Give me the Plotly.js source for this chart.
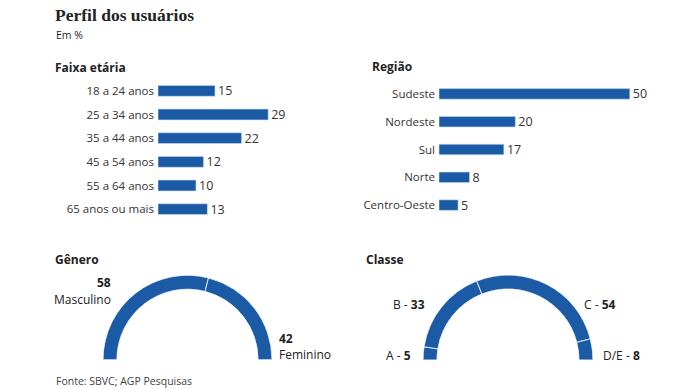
<!DOCTYPE html>
<html><head><meta charset="utf-8">
<script src="https://cdn.plot.ly/plotly-3.0.1.min.js"></script>
<style>html,body{margin:0;padding:0;background:#fff}#chart{width:700px;height:389px}</style>
</head><body><div id="chart"></div>
<script>
// ---- data ----
const ageLabels = ["18 a 24 anos","25 a 34 anos","35 a 44 anos","45 a 54 anos","55 a 64 anos","65 anos ou mais"];
const ageValues = [15, 29, 22, 12, 10, 13];
const regionLabels = ["Sudeste","Nordeste","Sul","Norte","Centro-Oeste"];
const regionValues = [50, 20, 17, 8, 5];
const genderLabels = ["Masculino","Feminino"];
const genderValues = [58, 42];
const classLabels = ["A","B","C","D/E"];
const classValues = [5, 33, 54, 8];

const BLUE = "#1b5ba5";
const FONT = "Open Sans, Noto Sans, sans-serif";
const W = 700, H = 389;
const px = x => x / W;
const py = y => 1 - y / H;

// half-donut helper: cumulative angles (degrees) along a 180° arc
function arcTrace(values, names, sub) {
  const total = values.reduce((a, b) => a + b, 0);
  let acc = 0;
  const theta = [], width = [];
  values.forEach(v => {
    const w = v / total * 180;
    theta.push(acc + w / 2);
    width.push(w);
    acc += w;
  });
  return {
    type: "barpolar", subplot: sub,
    r: values.map(() => 1), theta: theta, width: width,
    text: names, hoverinfo: "text",
    marker: {color: BLUE, line: {color: "#dfe9f5", width: 1}}
  };
}

const traces = [
  {
    type: "bar", orientation: "h", xaxis: "x", yaxis: "y",
    y: ageLabels, x: ageValues, text: ageValues.map(String),
    textposition: "outside", cliponaxis: false, constraintext: "none", width: 0.46,
    textfont: {family: FONT, size: 12.5, color: "#333"},
    marker: {color: BLUE, line: {color: "#cfdff0", width: 0.6}}
  },
  {
    type: "bar", orientation: "h", xaxis: "x2", yaxis: "y2",
    y: regionLabels, x: regionValues, text: regionValues.map(String),
    textposition: "outside", cliponaxis: false, constraintext: "none", width: 0.38,
    textfont: {family: FONT, size: 12.5, color: "#333"},
    marker: {color: BLUE, line: {color: "#cfdff0", width: 0.6}}
  },
  arcTrace(genderValues, genderLabels, "polar"),
  arcTrace(classValues, classLabels, "polar2")
];

const polarCommon = {
  sector: [0, 180], hole: 0.835, bargap: 0, bgcolor: "rgba(0,0,0,0)",
  radialaxis: {visible: false, range: [0, 1]},
  angularaxis: {visible: false, rotation: 180, direction: "clockwise"}
};

const ann = (text, x, y, xanchor, size, opts) => Object.assign({
  text: text, x: px(x), y: py(y), xref: "paper", yref: "paper",
  xanchor: xanchor, yanchor: "middle", showarrow: false,
  font: {family: FONT, size: size, color: "#222"}
}, opts || {});

const layout = {
  width: W, height: H,
  margin: {l: 0, r: 0, t: 0, b: 0},
  paper_bgcolor: "#fff", plot_bgcolor: "#fff",
  showlegend: false,
  font: {family: FONT, color: "#333"},
  xaxis: {domain: [px(158), px(310)], range: [0, 40], visible: false, fixedrange: true},
  yaxis: {domain: [py(221), py(79)], autorange: "reversed", type: "category",
          showgrid: false, zeroline: false, showline: false, ticks: "",
          ticklabelstandoff: 3, tickfont: {family: FONT, size: 11.5, color: "#333"}},
  xaxis2: {domain: [px(439), px(668)], range: [0, 60], visible: false, fixedrange: true},
  yaxis2: {domain: [py(219), py(80)], autorange: "reversed", type: "category", anchor: "x2",
           showgrid: false, zeroline: false, showline: false, ticks: "",
           ticklabelstandoff: 3, tickfont: {family: FONT, size: 11.5, color: "#333"}},
  polar: Object.assign({domain: {x: [px(103), px(272)], y: [py(360), py(275)]}}, polarCommon),
  polar2: Object.assign({domain: {x: [px(423), px(593)], y: [py(360), py(275)]}}, polarCommon),
  annotations: [
    ann("<b>Perfil dos usuários</b>", 53, 15, "left", 17, {font: {family: "Liberation Serif, DejaVu Serif, serif", size: 17.5, color: "#222"}}),
    ann("Em %", 54, 35, "left", 10.5),
    ann("<b>Faixa etária</b>", 53, 67, "left", 12),
    ann("<b>Região</b>", 370, 66, "left", 12),
    ann("<b>Gênero</b>", 53, 259, "left", 12),
    ann("<b>Classe</b>", 364, 259, "left", 12),
    ann("<b>" + genderValues[0] + "</b>", 113, 282, "right", 12),
    ann(genderLabels[0], 113, 299, "right", 12),
    ann("<b>" + genderValues[1] + "</b>", 277, 338, "left", 12),
    ann(genderLabels[1], 277, 354, "left", 12),
    ann(classLabels[0] + " - <b>" + classValues[0] + "</b>", 413, 355, "right", 12),
    ann(classLabels[1] + " - <b>" + classValues[1] + "</b>", 427, 304, "right", 12),
    ann(classLabels[2] + " - <b>" + classValues[2] + "</b>", 582, 304, "left", 12),
    ann(classLabels[3] + " - <b>" + classValues[3] + "</b>", 601, 355, "left", 12),
    ann("Fonte: SBVC; AGP Pesquisas", 54, 381, "left", 10.5, {font: {family: FONT, size: 10.5, color: "#444"}})
  ]
};

Plotly.newPlot("chart", traces, layout, {displayModeBar: false, staticPlot: true});
</script>
</body></html>
